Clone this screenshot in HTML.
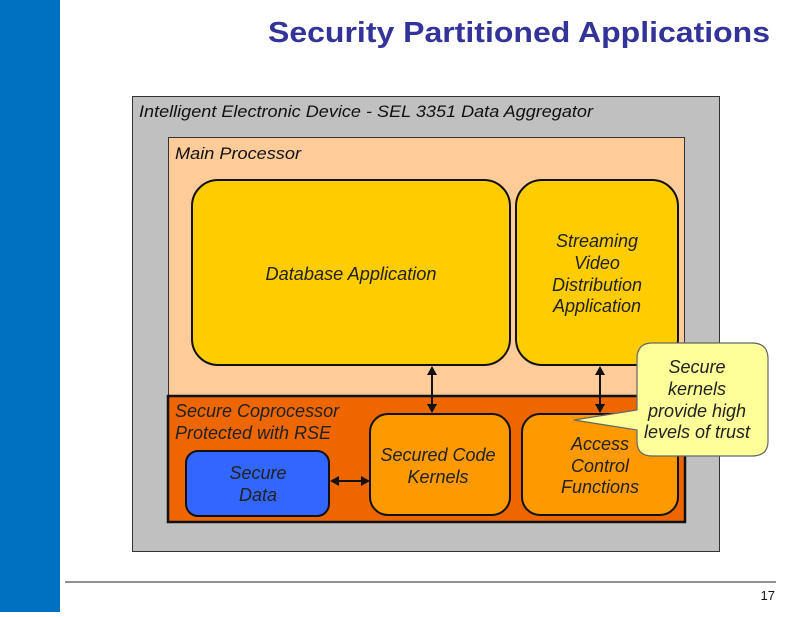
<!DOCTYPE html>
<html><head><style>body{margin:0;width:792px;height:612px;overflow:hidden;background:#fff}</style></head><body>
<svg width="792" height="612" xmlns="http://www.w3.org/2000/svg" font-family="Liberation Sans, sans-serif">
<rect x="0" y="0" width="60" height="612" fill="#0070c0"/>
<text x="770" y="42" text-anchor="end" font-size="29" font-weight="bold" fill="#333399" textLength="502" lengthAdjust="spacingAndGlyphs">Security Partitioned Applications</text>
<rect x="132.5" y="96.5" width="587" height="455" fill="#c0c0c0" stroke="#333" stroke-width="1"/>
<text x="139" y="117" font-size="17" font-style="italic" fill="#111" textLength="454" lengthAdjust="spacingAndGlyphs">Intelligent Electronic Device - SEL 3351 Data Aggregator</text>
<rect x="168.5" y="137.5" width="516" height="260" fill="#ffcc99" stroke="#333" stroke-width="1"/>
<text x="175" y="159" font-size="17" font-style="italic" fill="#111" textLength="126" lengthAdjust="spacingAndGlyphs">Main Processor</text>
<rect x="168" y="396" width="517" height="126" fill="#ee6600" stroke="#111" stroke-width="2.5"/>
<rect x="192" y="180" width="318" height="185" rx="26" fill="#ffcc00" stroke="#111" stroke-width="2"/>
<g font-size="18" font-style="italic" fill="#222">
<text x="351" y="280" text-anchor="middle" textLength="171" lengthAdjust="spacingAndGlyphs">Database Application</text>
</g>
<rect x="516" y="180" width="162" height="185" rx="26" fill="#ffcc00" stroke="#111" stroke-width="2"/>
<g font-size="18" font-style="italic" fill="#222" text-anchor="middle">
<text x="597" y="247">Streaming</text><text x="597" y="269">Video</text><text x="597" y="291">Distribution</text><text x="597" y="312">Application</text>
</g>
<g font-size="18" font-style="italic" fill="#222">
<text x="175" y="417">Secure Coprocessor</text><text x="175" y="439">Protected with RSE</text>
</g>
<rect x="186" y="451" width="143" height="65" rx="12" fill="#3366ff" stroke="#111" stroke-width="2"/>
<g font-size="18" font-style="italic" fill="#222" text-anchor="middle">
<text x="258" y="479">Secure</text><text x="258" y="501">Data</text></g>
<rect x="370" y="414" width="140" height="101" rx="18" fill="#ff9900" stroke="#111" stroke-width="2"/>
<g font-size="18" font-style="italic" fill="#222" text-anchor="middle">
<text x="438" y="461">Secured Code</text><text x="438" y="483">Kernels</text></g>
<rect x="522" y="414" width="156" height="101" rx="18" fill="#ff9900" stroke="#111" stroke-width="2"/>
<g font-size="18" font-style="italic" fill="#222" text-anchor="middle">
<text x="600" y="450">Access</text><text x="600" y="472">Control</text><text x="600" y="493">Functions</text></g>
<g stroke="#111" stroke-width="2" fill="#111">
<line x1="432" y1="372" x2="432" y2="407"/><polygon points="427,375 437,375 432,366" stroke="none"/><polygon points="427,404 437,404 432,413" stroke="none"/>
<line x1="600" y1="372" x2="600" y2="407"/><polygon points="595,375 605,375 600,366" stroke="none"/><polygon points="595,404 605,404 600,413" stroke="none"/>
<line x1="337" y1="481" x2="363" y2="481"/><polygon points="339,476 339,486 330,481" stroke="none"/><polygon points="361,476 361,486 370,481" stroke="none"/>
</g>
<path d="M652,343 H752 Q768,343 768,359 V441 Q768,456 752,456 H652 Q637,456 637,441 V430 L574,420 L637,410 V359 Q637,343 652,343 Z" fill="#ffff99" stroke="#666" stroke-width="1.2"/>
<g font-size="18" font-style="italic" fill="#222" text-anchor="middle">
<text x="697" y="373">Secure</text><text x="697" y="395">kernels</text><text x="697" y="417">provide high</text><text x="697" y="438">levels of trust</text></g>
<line x1="65" y1="582" x2="776" y2="582" stroke="#222" stroke-width="1"/>
<text x="775" y="600" text-anchor="end" font-size="13" fill="#111">17</text>
</svg>
</body></html>
